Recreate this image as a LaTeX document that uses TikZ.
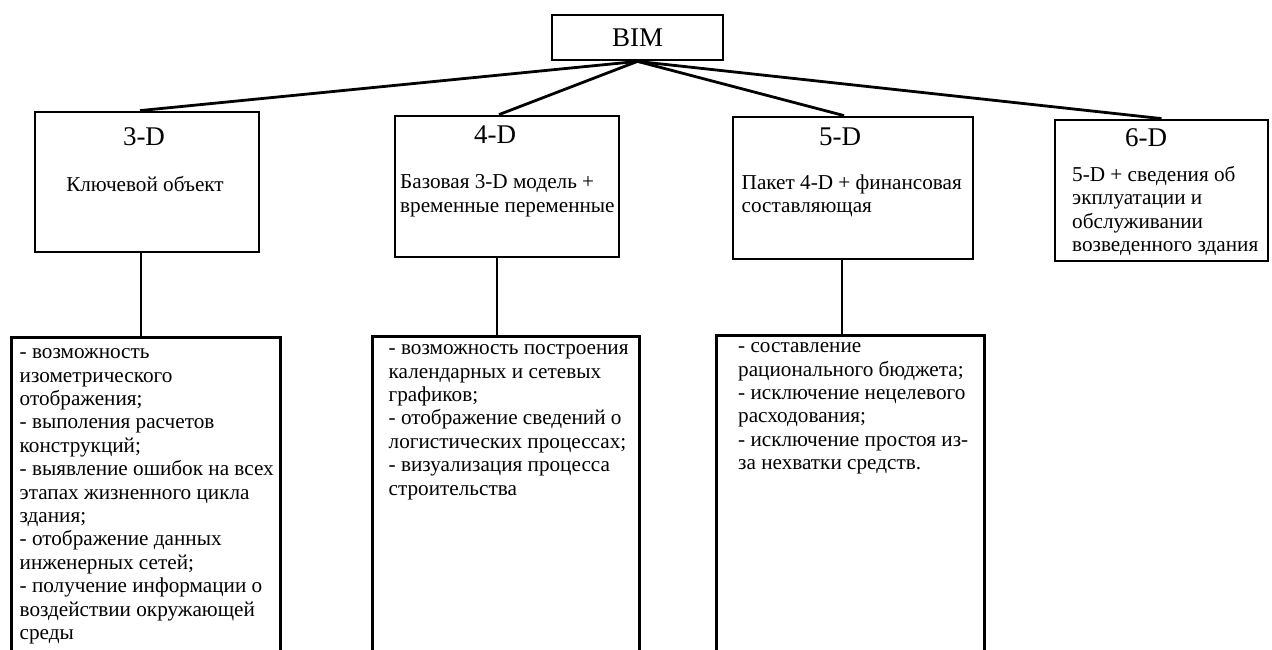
\documentclass[tikz,border=0pt]{standalone}
\usepackage{fontspec}
\setmainfont{Liberation Serif}
\begin{document}
\begin{tikzpicture}[x=1pt,y=-1pt,
  box/.style={draw,line width=2.8pt,rectangle,inner sep=0pt},
  conn/.style={line width=2.8pt},
  head/.style={inner sep=0pt,font=\fontsize{27}{30}\selectfont},
  body/.style={inner sep=0pt,align=left,font=\fontsize{21.2}{23.4}\selectfont}]
\clip (0,0) rectangle (1272,650);
\fill[white] (0,0) rectangle (1272,650);
% top
\node[box,minimum width=171pt,minimum height=45pt,font=\fontsize{27}{30}\selectfont] (bim) at (637.5,37.5) {BIM};
% level boxes
\node[box,minimum width=224pt,minimum height=140pt] (d3) at (147,182) {};
\node[box,minimum width=224pt,minimum height=141pt] (d4) at (507,186.5) {};
\node[box,minimum width=240pt,minimum height=142pt] (d5) at (853,188) {};
\node[box,minimum width=213pt,minimum height=141pt] (d6) at (1161.5,190.5) {};
% list boxes
\node[box,minimum width=269pt,minimum height=340pt,anchor=north west] (l3) at (10,336) {};
\node[box,minimum width=267pt,minimum height=340pt,anchor=north west] (l4) at (371,335) {};
\node[box,minimum width=268pt,minimum height=340pt,anchor=north west] (l5) at (715,334) {};
% headers
\node[head] (h3) at (144,137) {3-D};
\node[head] (h4) at (495,135) {4-D};
\node[head] (h5) at (840,137) {5-D};
\node[head] (h6) at (1146,138) {6-D};
% subtitles
\node[body,anchor=base] (s3) at (145,191) {Ключевой объект};
\node[body,anchor=north west] (s4) at (400,174.5) {Базовая 3-D модель +\\временные переменные};
\node[body,anchor=north west] (s5) at (741.5,174.5) {Пакет 4-D + финансовая\\составляющая};
\node[body,anchor=north west] (s6) at (1072,166) {5-D + сведения об\\экплуатации и\\обслуживании\\возведенного здания};
% lists
\node[body,anchor=north west] (t3) at (19.5,348.5) {- возможность\\изометрического\\отображения;\\- выполения расчетов\\конструкций;\\- выявление ошибок на всех\\этапах жизненного цикла\\здания;\\- отображение данных\\инженерных сетей;\\- получение информации о\\воздействии окружающей\\среды};
\node[body,anchor=north west] (t4) at (388.5,344.5) {- возможность построения\\календарных и сетевых\\графиков;\\- отображение сведений о\\логистических процессах;\\- визуализация процесса\\строительства};
\node[body,anchor=north west] (t5) at (738,342.5) {- составление\\рационального бюджета;\\- исключение нецелевого\\расходования;\\- исключение простоя из-\\за нехватки средств.};
% connectors
\draw[conn] (bim.south) -- ([xshift=-7pt]d3.north);
\draw[conn] (bim.south) -- ([xshift=-8pt]d4.north);
\draw[conn] (bim.south) -- ([xshift=-9pt]d5.north);
\draw[conn] (bim.south) -- ([xshift=0pt]d6.north);
\draw[conn] ([xshift=-6pt]d3.south) -- ([xshift=-6pt]d3.south |- l3.north);
\draw[conn] ([xshift=-10pt]d4.south) -- ([xshift=-10pt]d4.south |- l4.north);
\draw[conn] ([xshift=-11pt]d5.south) -- ([xshift=-11pt]d5.south |- l5.north);
\end{tikzpicture}
\end{document}
